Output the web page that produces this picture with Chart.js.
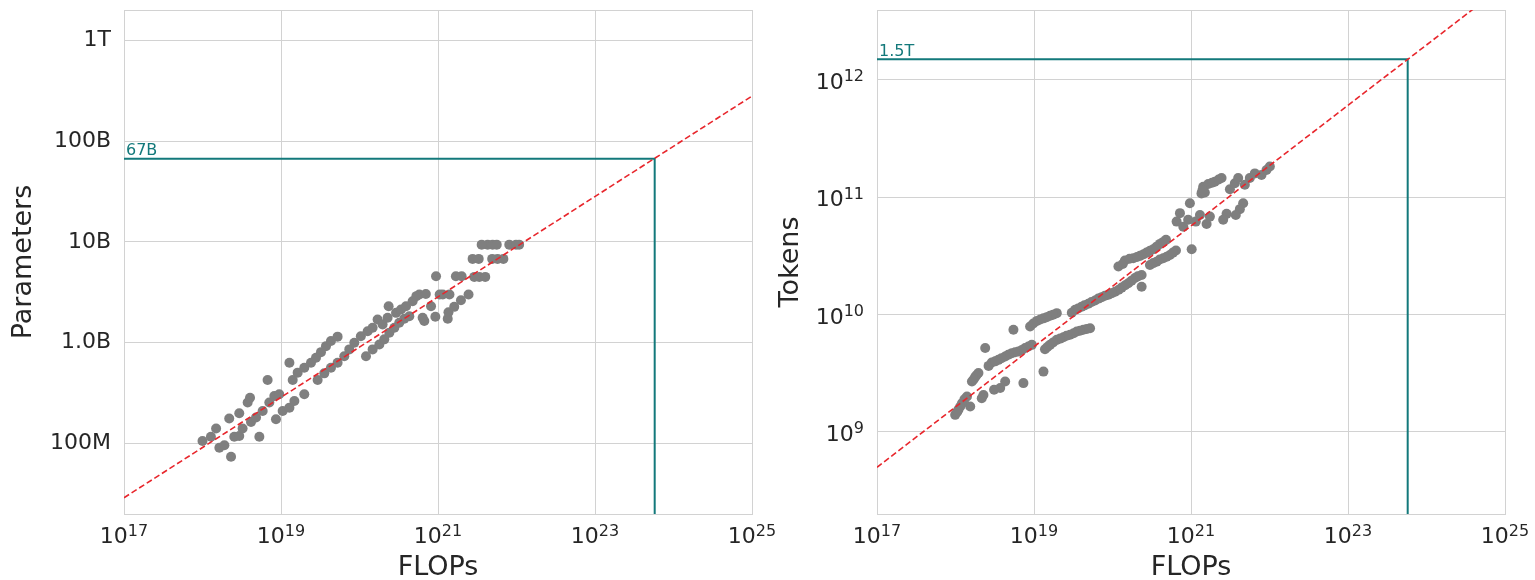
<!DOCTYPE html>
<html>
<head>
<meta charset="utf-8">
<title>Compute-optimal scaling</title>
<script src="https://cdn.jsdelivr.net/npm/chart.js@4.4.1/dist/chart.umd.min.js"></script>
<style>
  html, body { margin: 0; padding: 0; background: #fff; }
  #wrap { position: relative; width: 1535px; height: 580px; overflow: hidden; }
  #params-chart { position: absolute; left: 0; top: 0; }
  #tokens-chart { position: absolute; left: 767px; top: 0; }
</style>
</head>
<body>
<div id="wrap">
  <canvas id="params-chart" width="800" height="580"></canvas>
  <canvas id="tokens-chart" width="768" height="580"></canvas>
</div>
<script>
// axis ticks (powers of ten are drawn as base + raised exponent)
const flopTicks = [1e17, 1e19, 1e21, 1e23, 1e25];
const flopTickExponents = ['17', '19', '21', '23', '25'];
const paramTicks = [1e8, 1e9, 1e10, 1e11, 1e12];
const paramTickLabels = ['100M', '1.0B', '10B', '100B', '1T'];
const tokenTicks = [1e9, 1e10, 1e11, 1e12];
const tokenTickExponents = ['9', '10', '11', '12'];

// optimal model size per compute budget
const paramFlops = [
  1.0e18, 1.28e18, 1.49e18, 1.64e18, 1.90e18, 2.31e18, 2.19e18, 2.54e18, 2.94e18, 2.94e18,
  3.24e18, 3.76e18, 4.03e18, 4.15e18, 4.81e18, 5.30e18, 5.84e18, 6.75e18, 7.10e18, 8.22e18,
  9.5e18, 8.63e18, 1.05e19, 1.28e19, 1.48e19, 1.98e19, 1.28e19, 1.41e19, 1.63e19, 1.98e19,
  2.41e19, 2.79e19, 3.23e19, 3.74e19, 4.33e19, 5.26e19, 2.93e19, 3.56e19, 4.33e19, 5.26e19,
  6.40e19, 7.41e19, 8.59e19, 1.04e20, 1.27e20, 1.47e20, 1.70e20, 1.21e20, 1.47e20, 1.79e20,
  2.07e20, 2.40e20, 2.78e20, 3.21e20, 3.72e20, 4.31e20, 1.97e20, 2.28e20, 2.35e20, 2.92e20,
  3.38e20, 3.91e20, 4.75e20, 5.78e20, 6.69e20, 6.37e20, 8.15e20, 9.25e20, 9.44e20, 1.15e21,
  1.33e21, 1.36e21, 1.61e21, 1.96e21, 2.45e21, 1.69e21, 3.36e21, 2.76e21, 5.74e21, 4.29e21,
  4.96e21, 8.09e21, 9.86e21, 2.0e21, 2.9e21, 4.0e21, 3.3e21, 4.9e21, 6.8e21, 3.6e21,
  5.6e21, 1.08e22, 5.3e20, 7.0e20, 1.05e21, 1.4e21
];
const paramCounts = [
  1.06e8, 1.17e8, 1.41e8, 9.1e7, 9.6e7, 7.4e7, 1.77e8, 1.17e8, 1.19e8, 2.0e8,
  1.41e8, 2.55e8, 2.85e8, 1.64e8, 1.81e8, 1.17e8, 2.10e8, 4.27e8, 2.55e8, 2.96e8,
  3.08e8, 1.74e8, 2.10e8, 2.27e8, 2.64e8, 3.08e8, 6.34e8, 4.27e8, 5.05e8, 5.65e8,
  6.34e8, 7.10e8, 8.07e8, 9.25e8, 1.04e9, 1.15e9, 4.27e8, 4.97e8, 5.65e8, 6.34e8,
  7.36e8, 8.59e8, 1.0e9, 1.16e9, 1.30e9, 1.41e9, 1.70e9, 7.36e8, 8.59e8, 9.6e8,
  1.08e9, 1.26e9, 1.41e9, 1.58e9, 1.73e9, 1.83e9, 1.52e9, 1.77e9, 2.30e9, 1.98e9,
  2.14e9, 2.30e9, 2.58e9, 3.01e9, 1.64e9, 1.77e9, 2.30e9, 1.81e9, 4.56e9, 3.01e9,
  1.73e9, 2.01e9, 2.27e9, 2.64e9, 3.01e9, 4.56e9, 4.50e9, 6.79e9, 6.79e9, 9.4e9,
  9.4e9, 9.4e9, 9.4e9, 4.56e9, 4.5e9, 4.5e9, 6.79e9, 6.79e9, 6.79e9, 9.4e9,
  9.4e9, 9.4e9, 2.9e9, 3.05e9, 3.01e9, 3.01e9
];

// optimal training tokens per compute budget
const tokenFlops = [
  1.36e21, 1.43e21, 1.66e21, 2.01e21, 2.45e21, 3.13e21, 3.62e21, 3.99e21, 4.85e21, 5.61e21,
  6.50e21, 7.91e21, 9.16e21, 1.01e22, 9.68e20, 7.23e20, 6.56e20, 7.98e20, 9.2e20, 1.30e21,
  1.15e21, 1.74e21, 1.58e21, 2.84e21, 2.57e21, 4.62e21, 4.19e21, 3.72e21, 1.02e21, 1.19e20,
  1.44e20, 1.84e20, 2.24e20, 2.72e20, 3.30e20, 4.02e20, 4.80e20, 3.00e20, 3.65e20, 4.43e20,
  5.39e20, 6.43e20, 2.35e20, 1.93e20, 1.59e20, 1.31e20, 1.08e20, 8.86e19, 7.29e19, 5.99e19,
  4.92e19, 4.05e19, 3.34e19, 3.03e19, 2.35e20, 1.95e19, 1.60e19, 1.32e19, 1.09e19, 8.92e18,
  5.18e19, 4.25e19, 3.51e19, 2.88e19, 2.37e19, 1.95e19, 1.60e19, 1.38e19, 1.32e19, 5.47e18,
  2.39e18, 9.38e18, 7.71e18, 6.34e18, 5.22e18, 4.29e18, 3.52e18, 2.90e18, 2.64e18, 1.96e18,
  1.78e18, 1.62e18, 7.33e18, 4.29e18, 3.71e18, 3.10e18, 2.27e18, 2.16e18, 1.40e18, 1.54e18,
  1.21e18, 1.09e18, 9.9e17, 1.5e21, 1.85e21, 2.25e21, 1.4e21, 1.35e20, 1.65e20, 2.05e20,
  2.5e20, 3.0e20, 3.65e20, 4.4e20, 3.3e20, 4.0e20, 4.9e20, 5.9e20, 2.1e20, 1.75e20,
  1.45e20, 1.2e20, 9.8e19, 8.0e19, 6.6e19, 5.4e19, 4.4e19, 3.65e19, 1.75e19, 1.45e19,
  1.2e19, 9.8e18, 4.7e19, 3.85e19, 3.2e19, 2.6e19, 2.15e19, 1.75e19, 1.48e19, 8.5e18,
  7.0e18, 5.75e18, 4.7e18, 3.85e18, 3.2e18, 1.85e18, 1.7e18, 1.3e18, 1.15e18, 1.05e18
];
const tokenCounts = [
  1.08e11, 1.23e11, 1.30e11, 1.36e11, 1.46e11, 1.17e11, 1.32e11, 1.46e11, 1.28e11, 1.46e11,
  1.60e11, 1.55e11, 1.71e11, 1.83e11, 8.9e10, 7.33e10, 6.21e10, 5.62e10, 6.43e10, 7.08e10,
  6.21e10, 6.85e10, 5.93e10, 7.23e10, 6.43e10, 8.9e10, 7.93e10, 7.08e10, 3.61e10, 2.57e10,
  2.89e10, 3.03e10, 3.17e10, 3.38e10, 3.61e10, 4.01e10, 4.34e10, 2.65e10, 2.83e10, 3.03e10,
  3.23e10, 3.52e10, 2.18e10, 2.05e10, 1.85e10, 1.70e10, 1.57e10, 1.48e10, 1.41e10, 1.32e10,
  1.24e10, 1.17e10, 1.10e10, 1.04e10, 1.73e10, 1.03e10, 9.8e9, 9.3e9, 8.85e9, 7.93e9,
  7.67e9, 7.43e9, 7.18e9, 6.73e9, 6.43e9, 6.10e9, 5.53e9, 5.08e9, 3.27e9, 7.43e9,
  5.19e9, 5.53e9, 5.19e9, 4.85e9, 4.70e9, 4.40e9, 4.12e9, 3.91e9, 3.66e9, 3.18e9,
  2.94e9, 2.69e9, 2.61e9, 2.69e9, 2.37e9, 2.29e9, 2.07e9, 1.94e9, 2.01e9, 1.65e9,
  1.76e9, 1.55e9, 1.40e9, 1.1e11, 1.33e11, 1.42e11, 1.15e11, 2.7e10, 3.0e10, 3.1e10,
  3.28e10, 3.5e10, 3.8e10, 4.15e10, 2.75e10, 2.95e10, 3.12e10, 3.38e10, 2.12e10, 1.95e10,
  1.78e10, 1.63e10, 1.52e10, 1.45e10, 1.37e10, 1.28e10, 1.2e10, 1.13e10, 1.0e10, 9.5e9,
  9.1e9, 8.4e9, 7.55e9, 7.3e9, 6.95e9, 6.6e9, 6.25e9, 5.8e9, 5.3e9, 5.35e9,
  5.0e9, 4.78e9, 4.55e9, 4.25e9, 4.0e9, 3.05e9, 2.8e9, 1.9e9, 1.65e9, 1.48e9
];

// power-law fits, evaluated at the ends of the FLOPs axis
const fitFlops = [1e17, 1e25];
const paramFit = [2.9e7, 2.8e11];
const tokenFit = [5.0e8, 6.5e12];

// projection for the target compute budget
const targetFlops = 5.76e23;
const paramTarget = 67e9;
const tokenTarget = 1.5e12;

const FONT = 'DejaVu Sans';
const TEXT = '#262626';
const GRID = '#d2d2d2';
const TEAL = '#13797b';

// light frame round the plot area
const framePlugin = {
    id: 'frame',
    beforeDatasetsDraw(chart) {
        const { ctx, chartArea: a } = chart;
        ctx.save();
        ctx.strokeStyle = GRID;
        ctx.lineWidth = 1;
        ctx.strokeRect(Math.round(a.left) + 0.5, Math.round(a.top) + 0.5,
            Math.round(a.right - a.left), Math.round(a.bottom - a.top));
        ctx.restore();
    }
};

// value label sitting on the horizontal guide line
const targetLabelPlugin = {
    id: 'targetLabel',
    afterDatasetsDraw(chart, args, opts) {
        if (!opts.text) return;
        const { ctx, chartArea } = chart;
        const y = chart.scales.y.getPixelForValue(opts.value);
        ctx.save();
        ctx.font = `16px "${FONT}"`;
        ctx.fillStyle = TEAL;
        ctx.textAlign = 'left';
        ctx.textBaseline = 'alphabetic';
        ctx.fillText(opts.text, chartArea.left + 2, y - 3.5);
        ctx.restore();
    }
};

// "10" with a raised exponent; align is 'center' or 'right'
function drawPower(ctx, exp, x, y, align) {
    ctx.font = `22px "${FONT}"`;
    const wBase = ctx.measureText('10').width;
    ctx.font = `16px "${FONT}"`;
    const wExp = ctx.measureText(exp).width;
    const left = align === 'center' ? x - (wBase + wExp) / 2 : x - wBase - wExp;
    ctx.font = `22px "${FONT}"`;
    ctx.fillText('10', left, y);
    ctx.font = `16px "${FONT}"`;
    ctx.fillText(exp, left + wBase, y - 7.5);
}

const powerTicksPlugin = {
    id: 'powerTicks',
    afterDraw(chart, args, opts) {
        const { ctx } = chart;
        ctx.save();
        ctx.fillStyle = TEXT;
        ctx.textAlign = 'left';
        ctx.textBaseline = 'alphabetic';
        const xs = chart.scales.x;
        flopTicks.forEach((v, i) => {
            drawPower(ctx, flopTickExponents[i], xs.getPixelForValue(v), xs.top + 29, 'center');
        });
        if (opts.yExponents) {
            const ys = chart.scales.y;
            opts.yTicks.forEach((v, i) => {
                drawPower(ctx, opts.yExponents[i], ys.right - 13, ys.getPixelForValue(v) + 9, 'right');
            });
        }
        ctx.restore();
    }
};

function buildChart(canvasId, cfg) {
    const points = cfg.flops.map((f, i) => ({ x: f, y: cfg.values[i] }));
    const fit = fitFlops.map((f, i) => ({ x: f, y: cfg.fit[i] }));
    const guide = [
        { x: flopTicks[0], y: cfg.target },
        { x: targetFlops, y: cfg.target },
        { x: targetFlops, y: cfg.yMin }
    ];

    return new Chart(document.getElementById(canvasId), {
        type: 'scatter',
        data: {
            datasets: [
                {
                    type: 'line', data: fit, borderColor: '#e8262c', borderWidth: 1.6,
                    borderDash: [6, 3], pointRadius: 0, fill: false
                },
                {
                    type: 'line', data: guide, borderColor: TEAL, borderWidth: 2,
                    pointRadius: 0, fill: false
                },
                {
                    data: points, pointRadius: 5, pointBackgroundColor: '#7f7f7f',
                    pointBorderWidth: 0
                }
            ]
        },
        options: {
            responsive: false,
            animation: false,
            layout: { padding: { top: 10, right: cfg.padRight, left: 0, bottom: 0 } },
            plugins: {
                legend: { display: false },
                tooltip: { enabled: false },
                targetLabel: { text: cfg.targetLabel, value: cfg.target },
                powerTicks: { yTicks: cfg.ticks, yExponents: cfg.tickExponents }
            },
            scales: {
                x: {
                    type: 'logarithmic',
                    min: flopTicks[0],
                    max: flopTicks[flopTicks.length - 1],
                    afterBuildTicks: s => { s.ticks = flopTicks.map(v => ({ value: v })); },
                    afterFit: s => { s.height = 66; s.paddingLeft = 0; s.paddingRight = 0; },
                    grid: { color: GRID, drawTicks: false },
                    border: { display: false },
                    ticks: { display: false },
                    title: {
                        display: true, text: 'FLOPs', color: TEXT,
                        font: { family: FONT, size: 27, lineHeight: 0.9 },
                        padding: { top: 0, bottom: 0 }
                    }
                },
                y: {
                    type: 'logarithmic',
                    min: cfg.yMin,
                    max: cfg.yMax,
                    afterBuildTicks: s => { s.ticks = cfg.ticks.map(v => ({ value: v })); },
                    afterFit: s => { s.width = cfg.axisWidth; s.paddingTop = 0; s.paddingBottom = 0; },
                    grid: { color: GRID, drawTicks: false },
                    border: { display: false },
                    ticks: {
                        display: !cfg.tickExponents,
                        autoSkip: false, padding: 13, color: TEXT,
                        font: { family: FONT, size: 22 },
                        callback: (v, i) => cfg.tickLabels ? cfg.tickLabels[i] : ''
                    },
                    title: {
                        display: true, text: cfg.yTitle, color: TEXT,
                        font: { family: FONT, size: 27, lineHeight: 0.9 },
                        padding: { top: 12, bottom: 0 }
                    }
                }
            }
        },
        plugins: [framePlugin, targetLabelPlugin, powerTicksPlugin]
    });
}

buildChart('params-chart', {
    flops: paramFlops, values: paramCounts, fit: paramFit,
    target: paramTarget, targetLabel: '67B',
    ticks: paramTicks, tickLabels: paramTickLabels, yTitle: 'Parameters',
    yMin: 2e7, yMax: 2e12, axisWidth: 124, padRight: 48
});

buildChart('tokens-chart', {
    flops: tokenFlops, values: tokenCounts, fit: tokenFit,
    target: tokenTarget, targetLabel: '1.5T',
    ticks: tokenTicks, tickExponents: tokenTickExponents, yTitle: 'Tokens',
    yMin: 2e8, yMax: 3.95e12, axisWidth: 110, padRight: 30
});
</script>
</body>
</html>
